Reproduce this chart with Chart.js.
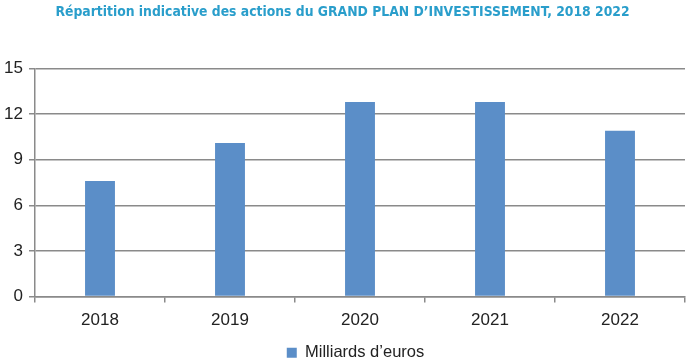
<!DOCTYPE html>
<html><head><meta charset="utf-8">
<script src="https://cdn.jsdelivr.net/npm/chart.js@4"></script>
<style>html,body{margin:0;padding:0;background:#fff}#wrap{width:690px;height:361px}</style>
</head><body><div id="wrap"><canvas id="c"></canvas></div>
<script>
const categories = ['2018','2019','2020','2021','2022'];
const seriesLabel = 'Milliards d\u2019euros';
const values = [7.6, 10.1, 12.8, 12.8, 10.9];
const yTicks = [0, 3, 6, 9, 12, 15];
const titleText = 'Répartition indicative des actions du GRAND PLAN D\u2019INVESTISSEMENT, 2018 2022';

const legendShift = {
  id: 'legendShift',
  afterLayout(chart) {
    if (chart.legend) { chart.legend.left += 13; chart.legend.right += 13; }
  }
};

new Chart(document.getElementById('c'), {
  type: 'bar',
  data: { labels: categories, datasets: [{ label: seriesLabel, data: values, backgroundColor: '#5b8ec8', borderWidth: 0, barPercentage: 0.23, categoryPercentage: 1 }] },
  plugins: [legendShift],
  options: {
    responsive: true, maintainAspectRatio: false, animation: false,
    layout: { padding: { left: 0, right: 5, top: 0, bottom: -10 } },
    plugins: {
      title: { display: true, text: titleText, color: '#2a9ecb', font: { family: '"Liberation Sans Narrow","DejaVu Sans Condensed",sans-serif', size: 13.8, weight: 'bold' }, padding: { top: 4, bottom: 48 } },
      legend: { position: 'bottom', labels: { boxWidth: 10, boxHeight: 10, color: '#222', font: { family: '"Liberation Sans",Arial,sans-serif', size: 16.5 }, padding: 0 } },
      tooltip: { enabled: false }
    },
    scales: {
      x: {
        offset: true,
        grid: { offset: true, drawOnChartArea: false, drawTicks: true, tickLength: 6, color: '#8a8a8a', lineWidth: 1.5 },
        border: { color: '#8a8a8a', width: 1.5 },
        ticks: { color: '#222', font: { family: '"Liberation Sans",Arial,sans-serif', size: 17 }, padding: 8 },
        afterFit: s => { s.height = 48; }
      },
      y: {
        min: 0, max: 15,
        afterBuildTicks: s => { s.ticks = yTicks.map(v => ({ value: v })); },
        grid: { color: '#8a8a8a', lineWidth: 1.5, tickLength: 6, drawTicks: true },
        border: { color: '#8a8a8a', width: 1.5 },
        ticks: { color: '#222', font: { family: '"Liberation Sans",Arial,sans-serif', size: 17 }, padding: 6 },
        afterFit: s => { s.width = 35; }
      }
    }
  }
});
</script></body></html>
